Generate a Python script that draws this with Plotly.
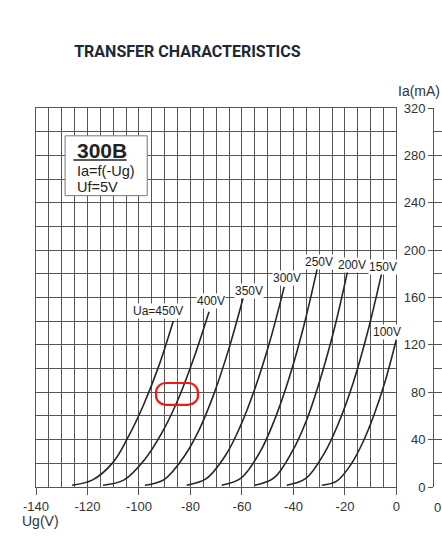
import plotly.graph_objects as go

# ---- data ----
ua_labels = ["Ua=450V", "400V", "350V", "300V", "250V", "200V", "150V", "100V"]

ug_450 = [-126, -118, -110, -104.5, -98.5, -92.5, -86.7]
ia_450 = [1.5, 6, 21, 41, 68, 101, 140]

ug_400 = [-114, -105.8, -97.5, -91.3, -85.2, -79, -72.8]
ia_400 = [1.5, 6, 24, 45, 72, 107, 148]

ug_350 = [-97.7, -90.1, -82.4, -76.7, -71, -65.2, -59.5]
ia_350 = [1.5, 6.5, 26, 48, 78, 116, 160]

ug_300 = [-81.5, -73.9, -66.3, -60.7, -55, -49.3, -43.6]
ia_300 = [1.5, 7, 27, 51, 83, 122, 169]

ug_250 = [-67.9, -60.4, -52.9, -47.3, -41.7, -36, -30.4]
ia_250 = [1.5, 7.5, 30, 57, 92, 136, 188]

ug_200 = [-55, -47.7, -40.5, -35, -29.6, -24.1, -18.7]
ia_200 = [1.5, 7.4, 30, 56, 91, 134, 185]

ug_150 = [-42.6, -35.2, -27.9, -22.4, -16.8, -11.3, -5.8]
ia_150 = [1.5, 7.2, 29, 54.5, 88, 130, 180]

ug_100 = [-29, -23.2, -17.4, -13, -8.7, -4.3, 0]
ia_100 = [1.5, 5, 20, 38, 61, 90, 125]

# label anchor positions (Ug, Ia)
label_ug = [-92.8, -72, -57.3, -42.6, -30.1, -17.1, -5.2, -3.8]
label_ia = [148.6, 156.7, 165.1, 176.5, 189.6, 187.5, 186.1, 131.2]

x_tickvals = [-140, -120, -100, -80, -60, -40, -20, 0]
x_ticktext = ["-140", "-120", "-100", "-80", "-60", "-40", "-20", "0"]
y_tickvals = [0, 40, 80, 120, 160, 200, 240, 280, 320]
y_ticktext = ["0", "40", "80", "120", "160", "200", "240", "280", "320"]

curves = [(ug_450, ia_450), (ug_400, ia_400), (ug_350, ia_350), (ug_300, ia_300),
          (ug_250, ia_250), (ug_200, ia_200), (ug_150, ia_150), (ug_100, ia_100)]

GRID = "#555555"
TXT = "#333333"
FONT = "Liberation Sans, Arial, sans-serif"

fig = go.Figure()
for (ug, ia), name in zip(curves, ua_labels):
    fig.add_trace(go.Scatter(x=ug, y=ia, mode="lines", name=name,
                             line=dict(color="#262626", width=1.6, shape="spline", smoothing=1.0),
                             hoverinfo="skip", showlegend=False))

# invisible traces to carry the right-hand axes
fig.add_trace(go.Scatter(x=[-140, 0], y=[0, 320], yaxis="y2", mode="markers",
                         marker=dict(opacity=0), showlegend=False, hoverinfo="skip"))
fig.add_trace(go.Scatter(x=[-140, 0], y=[0, 320], yaxis="y3", mode="markers",
                         marker=dict(opacity=0), showlegend=False, hoverinfo="skip"))

annotations = []
for name, x, y in zip(ua_labels, label_ug, label_ia):
    annotations.append(dict(x=x, y=y, xref="x", yref="y", text=name, showarrow=False,
                            xanchor="center", yanchor="middle",
                            font=dict(family=FONT, size=12, color="#222222"),
                            bgcolor="white", borderpad=0))

# info box text
annotations += [
    dict(x=-124.9, y=284.2, xref="x", yref="y", text="<b>300B</b>", showarrow=False,
         xanchor="left", yanchor="middle", font=dict(family=FONT, size=21, color="#222222")),
    dict(x=-124.9, y=267.2, xref="x", yref="y", text="Ia=f(-Ug)", showarrow=False,
         xanchor="left", yanchor="middle", font=dict(family=FONT, size=14.5, color="#222222")),
    dict(x=-124.9, y=253.5, xref="x", yref="y", text="Uf=5V", showarrow=False,
         xanchor="left", yanchor="middle", font=dict(family=FONT, size=14.5, color="#222222")),
    dict(x=-0.0403, y=-0.0897, xref="paper", yref="paper", text="Ug(V)", showarrow=False,
         xanchor="left", yanchor="middle", font=dict(family=FONT, size=14, color=TXT)),
    dict(x=0.9647, y=1.0449, xref="paper", yref="paper", text="Ia(mA)", showarrow=False,
         xanchor="center", yanchor="middle", font=dict(family=FONT, size=14, color=TXT)),
    dict(x=1.0101, y=-0.0554, xref="paper", yref="paper", text="0", showarrow=False,
         xanchor="center", yanchor="middle", font=dict(family=FONT, size=13, color=TXT)),
]

# hand-drawn red marker (rounded shape) in data coordinates
red_path = ("M -89.5,87.8 L -81.0,87.8 C -78.85,87.8 -77.1,84.2 -77.1,79.8 "
            "L -77.1,77.3 C -77.1,72.9 -78.85,69.3 -81.0,69.3 L -89.5,69.3 "
            "C -91.65,69.3 -93.4,72.9 -93.4,77.3 L -93.4,79.8 "
            "C -93.4,84.2 -91.65,87.8 -89.5,87.8 Z")

shapes = [
    dict(type="rect", xref="x", yref="y", x0=-128.7, x1=-96.8, y0=246, y1=296.5,
         line=dict(color="#777777", width=1), fillcolor="white", layer="above"),
    dict(type="line", xref="x", yref="y", x0=-125.5, x1=-104.8, y0=276.2, y1=276.2,
         line=dict(color="#222222", width=1.5)),
    dict(type="path", xref="x", yref="y", path=red_path,
         line=dict(color="#f01818", width=2.2)),
]

fig.update_layout(
    width=442, height=539, autosize=False,
    margin=dict(l=36, r=9, t=108, b=52, autoexpand=False),
    paper_bgcolor="white", plot_bgcolor="white",
    title=dict(text="<b>TRANSFER CHARACTERISTICS</b>", x=0.424, xanchor="center",
               y=1 - 51 / 539, yanchor="middle", xref="container", yref="container",
               font=dict(family="Roboto, sans-serif", size=16, color="#1c2833")),
    xaxis=dict(domain=[0, 0.908], range=[-140, 0], tickvals=x_tickvals, ticktext=x_ticktext,
               ticks="outside", ticklen=7, tickcolor=GRID, tickwidth=1, automargin=False,
               showgrid=True, gridcolor=GRID, gridwidth=1,
               minor=dict(dtick=5, tick0=-140, showgrid=True, gridcolor=GRID, gridwidth=1, ticks=""),
               showline=True, mirror=True, linecolor=GRID, linewidth=1, zeroline=False,
               tickfont=dict(family=FONT, size=13, color=TXT)),
    yaxis=dict(domain=[0, 1], range=[0, 320], dtick=20, tick0=0, showgrid=True, automargin=False,
               gridcolor=GRID, gridwidth=1, showticklabels=False, ticks="",
               showline=True, mirror=True, linecolor=GRID, linewidth=1, zeroline=False),
    yaxis2=dict(overlaying="y", anchor="free", position=1.0, side="left", range=[0, 320],
                tickvals=y_tickvals, ticktext=y_ticktext, ticks="outside", ticklen=5,
                automargin=False,
                tickcolor=GRID, showgrid=False, showline=True, linecolor=GRID, linewidth=1,
                zeroline=False, tickfont=dict(family=FONT, size=13, color=TXT)),
    yaxis3=dict(overlaying="y", anchor="free", position=1.0, side="left", range=[0, 320],
                dtick=20, tick0=0, ticks="inside", ticklen=8, tickcolor=GRID, automargin=False,
                showticklabels=False, showgrid=False, showline=False, zeroline=False),
    annotations=annotations, shapes=shapes,
)

fig.write_html(
    "out.html",
    config={"displayModeBar": False},
    post_script="document.body.style.margin='0px';document.documentElement.style.overflow='hidden';",
)
